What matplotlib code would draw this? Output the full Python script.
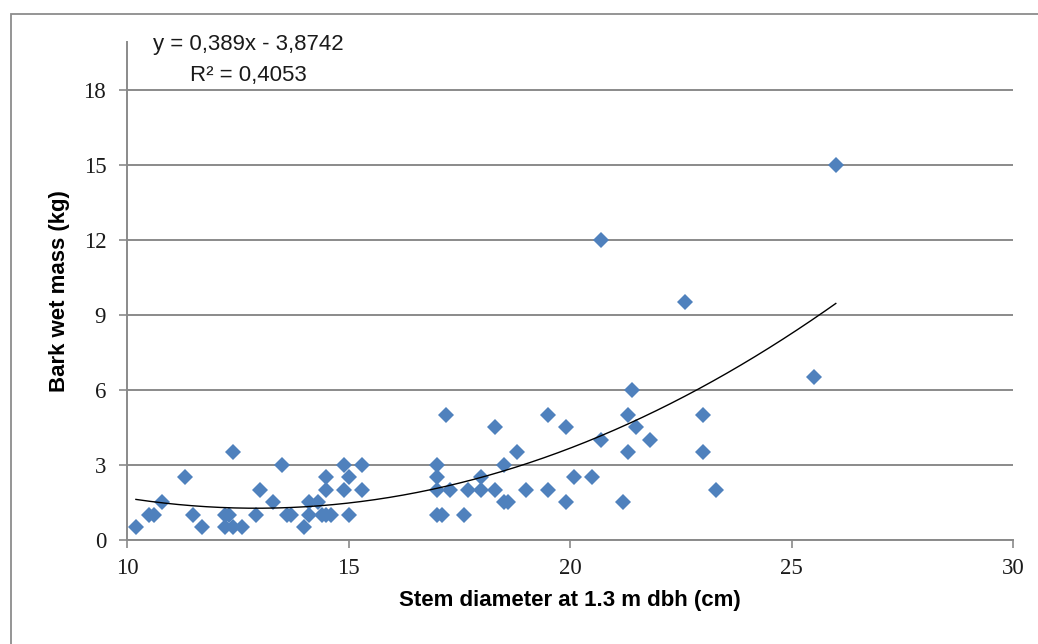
import numpy as np
import matplotlib.pyplot as plt
from matplotlib.patches import Rectangle

# Stem diameter (cm) and bark wet mass (kg)
diameter = [10.2, 10.5, 10.6, 10.8, 11.3, 11.5, 11.7, 12.2, 12.2, 12.3,
            12.4, 12.4, 12.6, 12.9, 13.0, 13.3, 13.5, 13.6, 13.7, 14.0,
            14.1, 14.1, 14.3, 14.4, 14.5, 14.5, 14.5, 14.6, 14.9, 15.0,
            14.9, 15.0, 15.3, 15.3,
            17.0, 17.0, 17.0, 17.0, 17.1, 17.2, 17.3, 17.6, 17.7, 18.0,
            18.0, 18.3, 18.3, 18.5, 18.5, 18.6, 18.8, 19.0, 19.5, 19.5,
            19.9, 19.9, 20.1, 20.5, 20.7, 20.7, 21.2, 21.3, 21.3, 21.4,
            21.5, 21.8, 22.6, 23.0, 23.0, 23.3, 25.5, 26.0]
bark_mass = [0.5, 1.0, 1.0, 1.5, 2.5, 1.0, 0.5, 1.0, 0.5, 1.0,
             3.5, 0.5, 0.5, 1.0, 2.0, 1.5, 3.0, 1.0, 1.0, 0.5,
             1.0, 1.5, 1.5, 1.0, 2.0, 2.5, 1.0, 1.0, 3.0, 2.5,
             2.0, 1.0, 3.0, 2.0,
             3.0, 2.5, 2.0, 1.0, 1.0, 5.0, 2.0, 1.0, 2.0, 2.0,
             2.5, 4.5, 2.0, 3.0, 1.5, 1.5, 3.5, 2.0, 5.0, 2.0,
             4.5, 1.5, 2.5, 2.5, 4.0, 12.0, 1.5, 5.0, 3.5, 6.0,
             4.5, 4.0, 9.5, 5.0, 3.5, 2.0, 6.5, 15.0]

x_ticks = [10, 15, 20, 25, 30]
y_ticks = [0, 3, 6, 9, 12, 15, 18]

fig = plt.figure(figsize=(10.38, 6.44), dpi=100)
ax = fig.add_axes([0.1224, 0.1615, 0.8535, 0.7733])

# outer chart frame
fig.patches.append(Rectangle((11/1038, -0.1), 1.2, (644-14)/644 + 0.1,
                             transform=fig.transFigure, fill=False,
                             edgecolor='#8c8c8c', linewidth=1.3))

ax.grid(axis='y', color='#8a8a8a', linewidth=1.4)
ax.set_axisbelow(True)

ax.plot(diameter, bark_mass, linestyle='none', marker='D', markersize=8.5,
        color='#4f81bd', markeredgewidth=0, zorder=3)

# trend line (2nd order polynomial fit)
coef = np.polyfit(diameter, bark_mass, 2)
xt = np.linspace(min(diameter), max(diameter), 200)
ax.plot(xt, np.polyval(coef, xt), color='black', linewidth=1, zorder=4)

ax.set_xlim(10, 30)
ax.set_ylim(0, 19.9)
ax.set_xticks(x_ticks)
ax.set_yticks(y_ticks)

for side in ['top', 'right']:
    ax.spines[side].set_visible(False)
for side in ['left', 'bottom']:
    ax.spines[side].set_color('#8a8a8a')
    ax.spines[side].set_linewidth(1.4)

ax.tick_params(length=6, width=1.2, color='#8a8a8a', direction='out')
ax.tick_params(axis='y', pad=9)
ax.tick_params(axis='x', pad=7)
for lab in ax.get_xticklabels() + ax.get_yticklabels():
    lab.set_family('Liberation Serif')
    lab.set_fontsize(16.5)
    lab.set_color('#1a1a1a')

ax.set_xlabel('Stem diameter at 1.3 m dbh (cm)', family='Liberation Sans',
              fontsize=16, fontweight='bold', labelpad=8)
ax.set_ylabel('Bark wet mass (kg)', family='Liberation Sans',
              fontsize=16, fontweight='bold', labelpad=10)

fig.text(248/1038, 1 - 60/644, 'y = 0,389x - 3,8742\nR² = 0,4053',
         family='Liberation Sans', fontsize=16, ha='center', va='center',
         linespacing=1.6, color='#1a1a1a')

fig.savefig('out.png', dpi=100)
